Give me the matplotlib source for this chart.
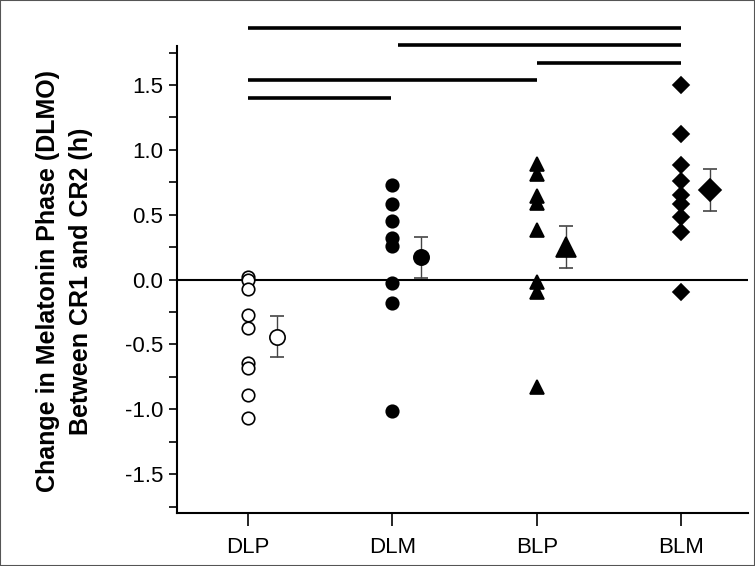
import numpy as np
import matplotlib.pyplot as plt
from matplotlib import font_manager
from matplotlib.ticker import MultipleLocator

groups = ['DLP', 'DLM', 'BLP', 'BLM']

dlp = [0.02, 0.0, -0.07, -0.27, -0.37, -0.64, -0.68, -0.89, -1.07]
dlm = [0.73, 0.58, 0.45, 0.32, 0.26, -0.03, -0.18, -1.01]
blp = [0.89, 0.81, 0.64, 0.59, 0.38, -0.02, -0.10, -0.83]
blm = [1.50, 1.12, 0.88, 0.76, 0.65, 0.58, 0.48, 0.37, -0.10]

group_means = [-0.44, 0.17, 0.25, 0.69]
group_sem = [0.16, 0.16, 0.16, 0.16]

# significance bars: (start group, end group, height)
sig_bars = [(0, 3, 1.94), (1.04, 3, 1.81), (2, 3, 1.67), (0, 2, 1.54), (0, 0.99, 1.40)]

markers = ['o', 'o', '^', 'D']
faces = ['white', 'black', 'black', 'black']
sizes = [9, 9, 10, 8]
mean_sizes = [11, 11, 14, 11]

# narrow font for ticks if available
names = {f.name for f in font_manager.fontManager.ttflist}
tick_font = 'Liberation Sans Narrow' if 'Liberation Sans Narrow' in names else 'Liberation Sans'

fig = plt.figure(figsize=(7.55, 5.66), dpi=100)
ax = fig.add_axes([0.2344, 0.0936, 0.7563, 0.8251])

all_vals = [dlp, dlm, blp, blm]
for i, vals in enumerate(all_vals):
    ax.plot(np.full(len(vals), i), vals, linestyle='none', marker=markers[i],
            markersize=sizes[i], markerfacecolor=faces[i], markeredgecolor='black',
            markeredgewidth=1.2, zorder=3)
    ax.errorbar(i + 0.2, group_means[i], yerr=group_sem[i], marker=markers[i],
                markersize=mean_sizes[i], markerfacecolor=faces[i],
                markeredgecolor='black', markeredgewidth=1.2, ecolor='#444444',
                elinewidth=1, capsize=5, capthick=1, zorder=3)

ax.axhline(0, color='black', lw=1.5, zorder=2)

for x0, x1, y in sig_bars:
    ax.plot([x0, x1], [y, y], color='black', lw=2.6, clip_on=False, solid_capstyle='butt')

ax.set_xlim(-0.49, 3.46)
ax.set_ylim(-1.8, 1.8)
ax.set_xticks(range(len(groups)))
ax.set_xticklabels(groups)
ax.yaxis.set_minor_locator(MultipleLocator(0.25))
ax.set_yticks([-1.5, -1.0, -0.5, 0.0, 0.5, 1.0, 1.5])
ax.set_yticklabels(['-1.5', '-1.0', '-0.5', '0.0', '0.5', '1.0', '1.5'])

for lab in ax.get_xticklabels() + ax.get_yticklabels():
    lab.set_family([tick_font, 'DejaVu Sans'])
    lab.set_fontsize(16)

ax.tick_params(axis='y', which='both', direction='out', length=6, width=1.2, pad=4)
ax.tick_params(axis='x', direction='out', length=9, width=1.2, pad=8)
ax.spines['top'].set_visible(False)
ax.spines['right'].set_visible(False)
ax.spines['left'].set_linewidth(1.5)
ax.spines['bottom'].set_linewidth(1.5)

fig.text(0.0854, 0.5027, 'Change in Melatonin Phase (DLMO)\nBetween CR1 and CR2 (h)',
         rotation=90, ha='center', va='center', multialignment='center',
         fontsize=18, fontweight='bold', family=['Liberation Sans', 'DejaVu Sans'],
         linespacing=1.45)

fig.patches.append(plt.Rectangle((0, 0), 1, 1, transform=fig.transFigure, fill=False,
                                 edgecolor='#555555', lw=1.5))

fig.savefig('out.png', dpi=100)
